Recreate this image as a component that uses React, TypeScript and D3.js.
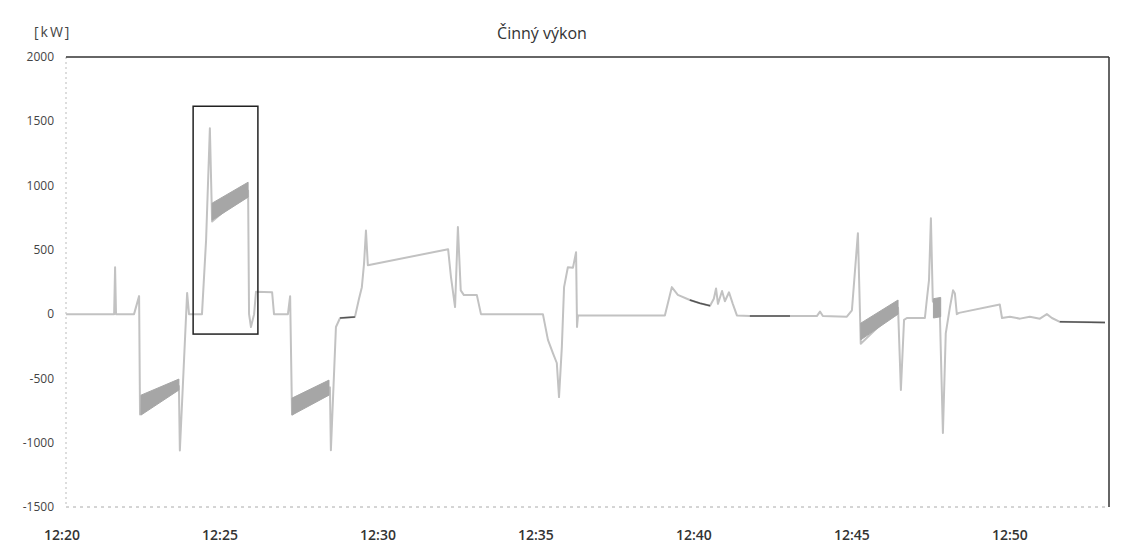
import React from "react";
import * as d3 from "d3";

// ---- data (minutes after 12:20, kW) ----
const powerSeries: [number, number][] = [
  [0.13, 0], [1.65, 0], [1.68, 365], [1.71, 0], [2.28, 0], [2.44, 140], [2.47, -780],
  [3.70, -560], [3.73, -1060], [3.96, 165], [4.02, 0], [4.43, 0], [4.56, 575], [4.68, 1446],
  [4.75, 720], [5.89, 960], [5.92, 0], [5.98, -100], [6.08, 0], [6.14, 175], [6.65, 170],
  [6.71, 0], [7.15, 0], [7.22, 140], [7.28, -780], [8.48, -570], [8.51, -1058], [8.67, -100],
  [8.80, -30], [9.27, -23], [9.40, 120], [9.49, 210], [9.56, 395], [9.62, 650], [9.68, 380],
  [12.22, 505], [12.31, 290], [12.44, 55], [12.53, 677], [12.62, 185], [12.72, 148], [13.13, 148],
  [13.26, 0], [15.22, 0], [15.38, -200], [15.54, -305], [15.66, -380], [15.73, -645], [15.82, -255],
  [15.89, 210], [16.01, 365], [16.17, 360], [16.27, 482], [16.30, -100], [16.33, -10], [19.08, -10],
  [19.30, 210], [19.49, 150], [19.87, 110], [20.19, 85], [20.51, 65], [20.63, 120], [20.70, 200],
  [20.76, 80], [20.89, 180], [20.98, 100], [21.11, 170], [21.23, 80], [21.36, -10], [21.77, -15],
  [23.04, -15], [23.89, -15], [23.99, 20], [24.08, -15], [24.84, -20], [25.00, 30], [25.19, 630],
  [25.28, -230], [26.46, 50], [26.55, -590], [26.65, -45], [26.74, -30], [27.31, -30], [27.37, 110],
  [27.44, 265], [27.50, 745], [27.56, 100], [27.78, 40], [27.88, -925], [27.97, -150], [28.10, 50],
  [28.20, 185], [28.26, 160], [28.32, 0], [28.39, 10], [29.68, 75], [29.75, -30], [30.00, -20],
  [30.32, -35], [30.63, -20], [30.95, -35], [31.17, 0], [31.33, -30], [31.58, -60], [33.01, -65],
];

// oscillation bands: [minute, low kW, high kW]
const band1: [number, number, number][] = [[2.50, -785, -630], [3.70, -590, -505]];
const band2: [number, number, number][] = [[4.75, 731, 863], [5.89, 910, 1026]];
const band3: [number, number, number][] = [[7.28, -785, -653], [8.45, -630, -513]];
const band4: [number, number, number][] = [[25.28, -200, -70], [26.46, 0, 110]];
const band5: [number, number, number][] = [[27.58, -30, 120], [27.81, -20, 130]];
const bands = [band1, band2, band3, band4, band5];

// darker-printed stretches of the trace (minute ranges)
const darkRanges: [number, number][] = [[8.75, 9.30], [19.8, 20.55], [21.6, 23.2], [31.5, 33.05]];

// highlighted box: [min start, min end], [kW top, kW bottom]
const boxMinutes: [number, number] = [4.15, 6.2];
const boxKW: [number, number] = [1617, -155];

const yTicks = [2000, 1500, 1000, 500, 0, -500, -1000, -1500];
const xTickLabels = ["12:20", "12:25", "12:30", "12:35", "12:40", "12:45", "12:50"];
const title = "Činný výkon";
const unit = "[kW]";

const base = new Date(2020, 0, 1, 12, 20, 0).getTime();
const toDate = (m: number) => new Date(base + m * 60000);

export default function App() {
  const W = 1142, H = 553;
  const x = d3.scaleTime().domain([toDate(0), toDate(33.2)]).range([62, 1111]);
  const y = d3.scaleLinear().domain([-1500, 2000]).range([507, 57]);
  const plotLeft = 66, plotRight = 1109;

  const line = d3.line<[number, number]>()
    .x(d => x(toDate(d[0])))
    .y(d => y(d[1]));
  const area = d3.area<[number, number, number]>()
    .x(d => x(toDate(d[0])))
    .y0(d => y(d[1]))
    .y1(d => y(d[2]));

  const xTicks = xTickLabels.map((_, i) => toDate(i * 5));
  const fmt = d3.timeFormat("%H:%M");

  return (
    <svg width={W} height={H} style={{ position: "absolute", left: 0, top: 0, background: "#fff" }}>
      {/* frame */}
      <line x1={plotLeft} x2={plotLeft} y1={y(2000)} y2={y(-1500)} stroke="#bbb" strokeDasharray="2,3" />
      <line x1={plotLeft} x2={plotRight} y1={y(-1500)} y2={y(-1500)} stroke="#aaa" strokeDasharray="3,4" />
      <line x1={plotLeft} x2={plotRight} y1={y(2000)} y2={y(2000)} stroke="#333" strokeWidth={1.5} />
      <line x1={plotRight} x2={plotRight} y1={y(2000)} y2={y(-1500)} stroke="#333" strokeWidth={1.5} />

      {/* y labels */}
      {yTicks.map(t => (
        <text key={t} x={54} y={y(t)} dy="0.35em" textAnchor="end"
          fontFamily="'Open Sans', sans-serif" fontSize={12} fill="#444">{t}</text>
      ))}
      {/* x labels */}
      {xTicks.map((t, i) => (
        <text key={i} x={x(t)} y={540} textAnchor="middle"
          fontFamily="'Open Sans', sans-serif" fontSize={14} fontWeight={600} fill="#333">{fmt(t)}</text>
      ))}

      <text x={542} y={39} textAnchor="middle" fontFamily="'Open Sans', sans-serif" fontSize={16} fill="#333">{title}</text>
      <text x={34} y={37} fontFamily="'Open Sans', sans-serif" fontSize={14} letterSpacing={2} fill="#444">{unit}</text>

      {/* trace */}
      <path d={line(powerSeries) || ""} fill="none" stroke="#c2c2c2" strokeWidth={2} strokeLinejoin="round" />
      {bands.map((b, i) => (
        <path key={i} d={area(b) || ""} fill="#a6a6a6" stroke="#a6a6a6" strokeWidth={1} />
      ))}
      {darkRanges.map((r, i) => (
        <path key={i} d={line(powerSeries.filter(p => p[0] >= r[0] && p[0] <= r[1])) || ""}
          fill="none" stroke="#555" strokeWidth={1.5} />
      ))}

      {/* highlight box */}
      <rect x={x(toDate(boxMinutes[0]))} y={y(boxKW[0])}
        width={x(toDate(boxMinutes[1])) - x(toDate(boxMinutes[0]))}
        height={y(boxKW[1]) - y(boxKW[0])}
        fill="none" stroke="#222" strokeWidth={1.5} />
    </svg>
  );
}
